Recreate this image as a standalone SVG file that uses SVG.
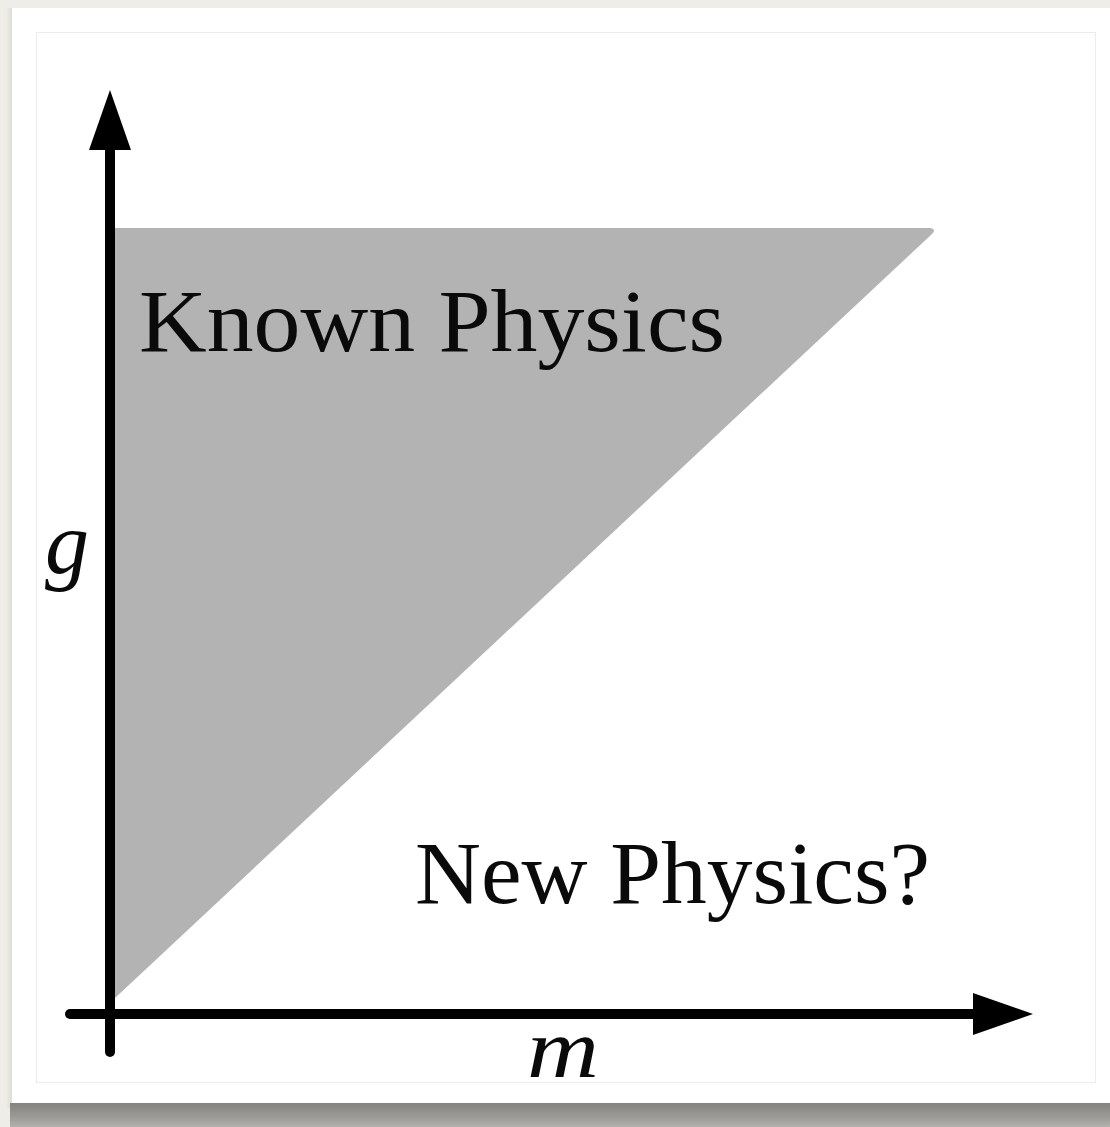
<svg xmlns="http://www.w3.org/2000/svg" width="1110" height="1127" viewBox="0 0 1110 1127">
  <defs>
    <linearGradient id="shadowB" x1="0" y1="0" x2="0" y2="1">
      <stop offset="0" stop-color="#858380"/>
      <stop offset="0.6" stop-color="#9d9b97"/>
      <stop offset="1" stop-color="#b4b2ad"/>
    </linearGradient>
    <linearGradient id="shadowL" x1="0" y1="0" x2="1" y2="0">
      <stop offset="0" stop-color="#efede8"/>
      <stop offset="1" stop-color="#d8d6d1"/>
    </linearGradient>
    <marker id="arrow" viewBox="0 0 60 42" refX="2" refY="21" markerWidth="60" markerHeight="42" markerUnits="userSpaceOnUse" orient="auto">
      <path d="M0,0 L60,21 L0,42 Z" fill="#000"/>
    </marker>
    <style>
      .lbl { font-family: "Liberation Serif", "DejaVu Serif", serif; fill: #0a0a0a; }
      .math { font-family: "Liberation Serif", "DejaVu Serif", serif; font-style: italic; fill: #0a0a0a; }
      .axis { stroke: #000; stroke-width: 10; stroke-linecap: round; fill: none; }
    </style>
  </defs>
  <rect x="0" y="0" width="1110" height="1127" fill="#efede8"/>
  <rect x="6" y="8" width="8" height="1100" fill="url(#shadowL)"/>
  <rect x="10" y="1103" width="1100" height="24" fill="url(#shadowB)"/>
  <rect x="12" y="8" width="1098" height="1095" fill="#ffffff"/>
  <rect x="36.5" y="32.5" width="1059" height="1050" fill="#ffffff" stroke="#ececec" stroke-width="1"/>

  <g id="known-region">
    <path d="M115,228 L930,228 Q937,229 932,234 L115,998 Z" fill="#b3b3b3"/>
  </g>

  <g id="connectors">
    <line class="axis" x1="110" y1="1052" x2="110" y2="148" marker-end="url(#arrow)"/>
    <line class="axis" x1="70" y1="1014" x2="975" y2="1014" marker-end="url(#arrow)"/>
  </g>

  <g id="label-known">
    <text class="lbl" x="139" y="351" font-size="88" textLength="586" lengthAdjust="spacingAndGlyphs">Known Physics</text>
  </g>
  <g id="label-new">
    <text class="lbl" x="415" y="903" font-size="88" textLength="515" lengthAdjust="spacingAndGlyphs">New Physics?</text>
  </g>
  <g id="label-g">
    <text class="math" x="45" y="573" font-size="88">g</text>
  </g>
  <g id="label-m">
    <text class="math" x="527" y="1077" font-size="84" textLength="72" lengthAdjust="spacingAndGlyphs">m</text>
  </g>
</svg>
